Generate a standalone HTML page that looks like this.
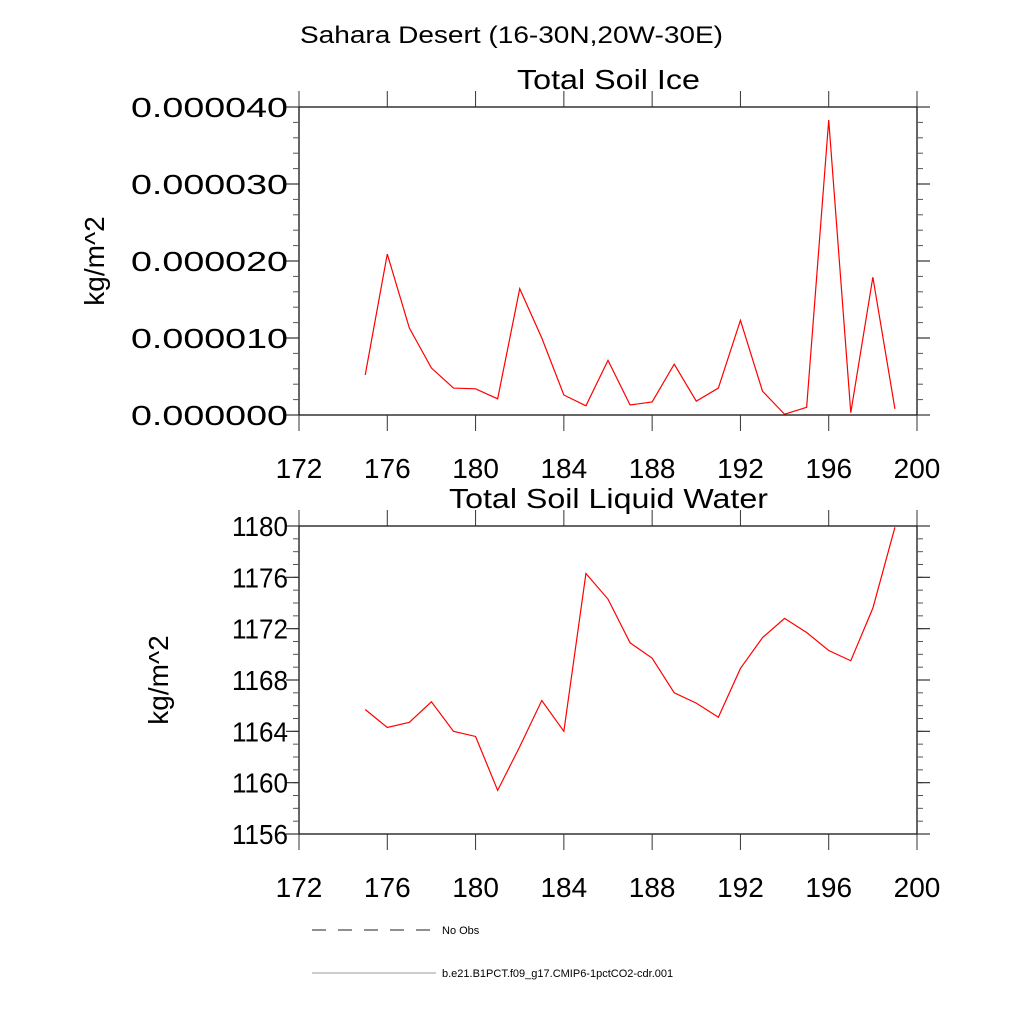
<!DOCTYPE html>
<html><head><meta charset="utf-8"><style>
body{margin:0;background:#fff;}
svg{display:block;font-family:"Liberation Sans",sans-serif;}
</style></head><body>
<svg id="c" width="1024" height="1024" xmlns="http://www.w3.org/2000/svg">
<text x="300" y="43" font-size="24" textLength="423" lengthAdjust="spacingAndGlyphs">Sahara Desert (16-30N,20W-30E)</text>
<g id="p1"></g>
<g id="p2"></g>
<g>
<line x1="312" y1="930" x2="436" y2="930" stroke="#222" stroke-width="1" stroke-dasharray="14,12"/>
<text x="442" y="934" font-size="11">No Obs</text>
<line x1="312" y1="973" x2="436" y2="973" stroke="#999" stroke-width="1"/>
<text x="442" y="977" font-size="11">b.e21.B1PCT.f09_g17.CMIP6-1pctCO2-cdr.001</text>
</g>
</svg>
<script>
const years=[175,176,177,178,179,180,181,182,183,184,185,186,187,188,189,190,191,192,193,194,195,196,197,198,199];
const iceVals=[5.2e-6,2.09e-5,1.13e-5,6.1e-6,3.5e-6,3.4e-6,2.1e-6,1.64e-5,1.0e-5,2.6e-6,1.2e-6,7.1e-6,1.3e-6,1.7e-6,6.6e-6,1.8e-6,3.5e-6,1.23e-5,3.1e-6,1e-7,1.0e-6,3.83e-5,3e-7,1.79e-5,8e-7];
const liqVals=[1165.7,1164.3,1164.7,1166.3,1164.0,1163.6,1159.4,1162.8,1166.4,1164.0,1176.3,1174.3,1170.9,1169.7,1167.0,1166.2,1165.1,1168.9,1171.3,1172.8,1171.7,1170.3,1169.5,1173.6,1179.9];
const xTicks=[172,176,180,184,188,192,196,200];
const iceTicks=[0,0.00001,0.00002,0.00003,0.00004];
const iceTickLabels=["0.000000","0.000010","0.000020","0.000030","0.000040"];
const liqTicks=[1156,1160,1164,1168,1172,1176,1180];
const liqTickLabels=["1156","1160","1164","1168","1172","1176","1180"];
const NS="http://www.w3.org/2000/svg";
function mk(p,t,a){const e=document.createElementNS(NS,t);for(const k in a)e.setAttribute(k,a[k]);p.appendChild(e);return e;}
function panel(g,top,bot,ymin,ymax,ticks,labels,minorStep,vals,title,titleX,titleW,yfs,labW){
  const L=299,R=917;
  const sx=v=>L+(v-172)/(200-172)*(R-L);
  const sy=v=>bot-(v-ymin)/(ymax-ymin)*(bot-top);
  const t=mk(g,'text',{x:titleX,y:top-18,'font-size':28,textLength:titleW,lengthAdjust:'spacingAndGlyphs'});t.textContent=title;
  
  
  const r=mk(g,'rect',{x:L,y:top,width:R-L,height:bot-top,fill:'none',stroke:'#000','stroke-width':1.2});
  
  
  xTicks.forEach(v=>{const x=sx(v);
    mk(g,'line',{x1:x,y1:top,x2:x,y2:top-16,stroke:'#333'});
    mk(g,'line',{x1:x,y1:bot,x2:x,y2:bot+16,stroke:'#333'});
    const l=mk(g,'text',{x:x,y:bot+63,'font-size':28,'text-anchor':'middle'});l.textContent=v;
    
    
  });
  for(let v=ymin;v<=ymax+minorStep/2;v+=minorStep){const y=sy(v);
    mk(g,'line',{x1:L,y1:y,x2:L-6,y2:y,stroke:'#555'});mk(g,'line',{x1:R,y1:y,x2:R+6,y2:y,stroke:'#555'});}
  ticks.forEach((v,i)=>{const y=sy(v);
    mk(g,'line',{x1:L,y1:y,x2:L-13,y2:y,stroke:'#333','stroke-width':1.2});mk(g,'line',{x1:R,y1:y,x2:R+13,y2:y,stroke:'#333','stroke-width':1.2});
    const l=mk(g,'text',{x:288-labW,y:y+10,'font-size':28,textLength:labW,lengthAdjust:'spacingAndGlyphs'});l.textContent=labels[i];
    
    
  });
  const yl=mk(g,'text',{x:0,y:0,'font-size':28,'text-anchor':'middle',transform:`translate(${yfs},${(top+bot)/2}) rotate(-90)`});yl.textContent='kg/m^2';
  
  
  const pts=years.map((y,i)=>sx(y)+','+sy(vals[i])).join(' ');
  const pl=mk(g,'polyline',{points:pts,fill:'none',stroke:'#f00','stroke-width':1.2});
  
  
}
panel(document.getElementById('p1'),107,415,0,0.00004,iceTicks,iceTickLabels,0.000002,iceVals,'Total Soil Ice',517,183,104,157);
panel(document.getElementById('p2'),526,834,1156,1180,liqTicks,liqTickLabels,1,liqVals,'Total Soil Liquid Water',449,319,168,56);
</script>
</body></html>
